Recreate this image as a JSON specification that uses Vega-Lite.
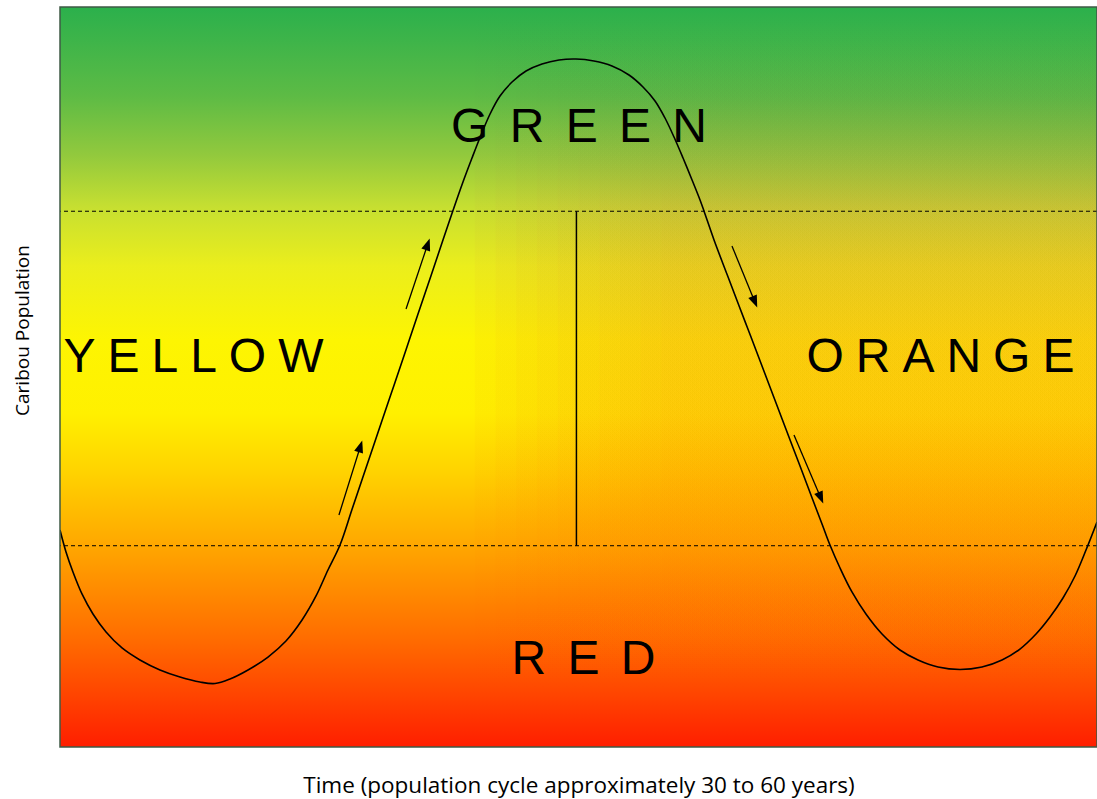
{
  "$schema": "https://vega.github.io/schema/vega-lite/v6.json",
  "width": 1037,
  "height": 740,
  "autosize": "none",
  "padding": {"left": 60, "top": 7, "right": 0, "bottom": 52},
  "background": "white",
  "config": {
    "view": {"stroke": null}
  },
  "datasets": {
    "curve": [
      {"t": 0, "pop": 29.32}, {"t": 0.58, "pop": 26.35}, {"t": 1.25, "pop": 23.65}, {"t": 2.12, "pop": 20.68},
      {"t": 3.18, "pop": 17.97}, {"t": 4.44, "pop": 15.54}, {"t": 5.98, "pop": 13.38}, {"t": 7.71, "pop": 11.76},
      {"t": 9.64, "pop": 10.41}, {"t": 11.57, "pop": 9.46}, {"t": 13.5, "pop": 8.78}, {"t": 14.95, "pop": 8.58},
      {"t": 16.39, "pop": 9.19}, {"t": 18.13, "pop": 10.41}, {"t": 20.06, "pop": 12.16}, {"t": 21.79, "pop": 14.32},
      {"t": 23.34, "pop": 17.16}, {"t": 24.69, "pop": 20.41}, {"t": 25.84, "pop": 23.92}, {"t": 27.0, "pop": 27.3},
      {"t": 28.14, "pop": 32.03}, {"t": 29.18, "pop": 36.35}, {"t": 30.16, "pop": 40.41}, {"t": 31.07, "pop": 44.19},
      {"t": 32.22, "pop": 48.92}, {"t": 33.36, "pop": 53.65}, {"t": 34.49, "pop": 58.38}, {"t": 35.8, "pop": 63.78},
      {"t": 36.93, "pop": 68.51}, {"t": 37.88, "pop": 72.43}, {"t": 38.86, "pop": 76.35}, {"t": 39.73, "pop": 79.59},
      {"t": 40.6, "pop": 82.7}, {"t": 41.47, "pop": 85.54}, {"t": 42.43, "pop": 87.97}, {"t": 43.59, "pop": 89.86},
      {"t": 44.94, "pop": 91.35}, {"t": 46.48, "pop": 92.3}, {"t": 48.12, "pop": 92.84}, {"t": 49.76, "pop": 92.97},
      {"t": 51.49, "pop": 92.7}, {"t": 53.23, "pop": 92.03}, {"t": 54.87, "pop": 90.81}, {"t": 56.22, "pop": 89.19},
      {"t": 57.38, "pop": 87.3}, {"t": 58.34, "pop": 85.0}, {"t": 59.21, "pop": 82.43}, {"t": 60.08, "pop": 79.59},
      {"t": 60.95, "pop": 76.62}, {"t": 61.72, "pop": 73.92}, {"t": 62.1, "pop": 72.43}, {"t": 63.07, "pop": 68.51},
      {"t": 64.35, "pop": 63.78}, {"t": 65.45, "pop": 59.73}, {"t": 66.3, "pop": 56.62}, {"t": 67.11, "pop": 53.65},
      {"t": 68.39, "pop": 48.92}, {"t": 69.67, "pop": 44.19}, {"t": 70.77, "pop": 40.14}, {"t": 71.69, "pop": 36.76},
      {"t": 72.6, "pop": 33.38}, {"t": 73.52, "pop": 30.0}, {"t": 74.25, "pop": 27.3}, {"t": 75.22, "pop": 24.19},
      {"t": 76.37, "pop": 20.95}, {"t": 77.72, "pop": 17.97}, {"t": 79.27, "pop": 15.27}, {"t": 81.0, "pop": 13.11},
      {"t": 82.74, "pop": 11.76}, {"t": 84.67, "pop": 10.81}, {"t": 86.79, "pop": 10.47}, {"t": 88.91, "pop": 10.81},
      {"t": 90.84, "pop": 11.76}, {"t": 92.57, "pop": 13.24}, {"t": 94.12, "pop": 15.27}, {"t": 95.47, "pop": 17.57},
      {"t": 96.72, "pop": 20.14}, {"t": 97.88, "pop": 23.11}, {"t": 98.94, "pop": 26.62}, {"t": 100, "pop": 30.41}
    ],
    "arrows": [
      {"t0": 26.9, "p0": 31.35, "t1": 28.97, "p1": 40.64, "angle": 17.3},
      {"t0": 33.37, "p0": 59.19, "t1": 35.46, "p1": 67.95, "angle": 18.9},
      {"t0": 64.8, "p0": 67.7, "t1": 67.01, "p1": 60.15, "angle": 157.7},
      {"t0": 70.78, "p0": 42.16, "t1": 73.37, "p1": 33.66, "angle": 156.9}
    ],
    "thresholds": [{"level": 72.4}, {"level": 27.2}],
    "divider": [{"t": 49.8, "lo": 27.2, "hi": 72.4}],
    "zones": [
      {"label": "G \u2006R \u2006E \u2006E \u2006N", "t": 50.05, "pop": 83.65},
      {"label": "Y\u2005E\u2005L\u2005L\u2005O\u2005W", "t": 12.87, "pop": 52.57},
      {"label": "O\u2005R\u2005A\u2005N\u2005G\u2005E", "t": 84.9, "pop": 52.57},
      {"label": "R \u2006E \u2006D", "t": 50.48, "pop": 11.76}
    ],
    "blend": [
      {"from": 40, "step": 1}, {"from": 42, "step": 2}, {"from": 44, "step": 3}, {"from": 46, "step": 4}, {"from": 48, "step": 5},
      {"from": 50, "step": 6}, {"from": 52, "step": 7}, {"from": 54, "step": 8}, {"from": 56, "step": 9}, {"from": 58, "step": 10}
    ]
  },
  "encoding": {
    "x": {"type": "quantitative", "scale": {"domain": [0, 100], "nice": false},
          "axis": {"title": "Time (population cycle approximately 30 to 60 years)", "titleFont": "Open Sans", "titleFontSize": 22.5, "titleFontWeight": "normal", "titleColor": "#000000", "titlePadding": 27, "values": [], "ticks": false, "domain": false, "grid": false, "labelFontSize": 1}},
    "y": {"type": "quantitative", "scale": {"domain": [0, 100], "nice": false},
          "axis": {"title": "Caribou Population", "titleFont": "Open Sans", "titleFontSize": 19, "titleFontWeight": "normal", "titleColor": "#000000", "titlePadding": 28, "titleY": 323, "values": [], "ticks": false, "domain": false, "grid": false, "labelFontSize": 1}}
  },
  "layer": [
    {
      "data": {"values": [{}]},
      "mark": {"type": "rect", "fill": {"gradient": "linear", "x1": 0, "y1": 0, "x2": 0, "y2": 1, "stops": [
        {"offset": 0, "color": "#2bb04c"}, {"offset": 0.12, "color": "#5dbb45"}, {"offset": 0.2, "color": "#92c93d"},
        {"offset": 0.27, "color": "#c6df31"}, {"offset": 0.35, "color": "#ebee1c"}, {"offset": 0.45, "color": "#fdf502"},
        {"offset": 0.55, "color": "#fff000"}, {"offset": 0.63, "color": "#ffd200"}, {"offset": 0.73, "color": "#ffa600"},
        {"offset": 0.85, "color": "#ff6e00"}, {"offset": 0.93, "color": "#ff4400"}, {"offset": 1, "color": "#ff1e00"}]}},
      "encoding": {
        "x": {"datum": 0, "type": "quantitative"},
        "x2": {"datum": 100},
        "y": {"datum": 0, "type": "quantitative"},
        "y2": {"datum": 100}
      }
    },
    {
      "data": {"name": "blend"},
      "mark": {"type": "rect", "fill": {"gradient": "linear", "x1": 0, "y1": 0, "x2": 0, "y2": 1, "stops": [
        {"offset": 0, "color": "#2bb04c"}, {"offset": 0.12, "color": "#5cb047"}, {"offset": 0.2, "color": "#96b340"},
        {"offset": 0.27, "color": "#c3b438"}, {"offset": 0.35, "color": "#e2b724"}, {"offset": 0.45, "color": "#f4b912"},
        {"offset": 0.55, "color": "#f9b60a"}, {"offset": 0.63, "color": "#fca804"}, {"offset": 0.73, "color": "#ff9200"},
        {"offset": 0.85, "color": "#ff6800"}, {"offset": 0.93, "color": "#ff4400"}, {"offset": 1, "color": "#ff1e00"}]}},
      "encoding": {
        "x": {"field": "from", "type": "quantitative"},
        "x2": {"datum": 100},
        "y": {"datum": 0, "type": "quantitative"},
        "y2": {"datum": 100},
        "opacity": {"field": "step", "type": "ordinal", "scale": {"domain": [1, 2, 3, 4, 5, 6, 7, 8, 9, 10], "range": [0.1, 0.1111, 0.125, 0.1429, 0.1667, 0.2, 0.25, 0.3333, 0.5, 1]}, "legend": null}
      }
    },
    {
      "data": {"name": "thresholds"},
      "mark": {"type": "rule", "color": "#000000", "strokeWidth": 1, "strokeDash": [4, 3]},
      "encoding": {
        "x": null,
        "y": {"field": "level", "type": "quantitative"}
      }
    },
    {
      "data": {"name": "divider"},
      "mark": {"type": "rule", "color": "#000000", "strokeWidth": 1.5},
      "encoding": {
        "x": {"field": "t", "type": "quantitative"},
        "y": {"field": "lo", "type": "quantitative"},
        "y2": {"field": "hi"}
      }
    },
    {
      "data": {"name": "curve"},
      "mark": {"type": "line", "color": "#000000", "strokeWidth": 1.6, "interpolate": "catmull-rom", "clip": true},
      "encoding": {
        "x": {"field": "t", "type": "quantitative"},
        "y": {"field": "pop", "type": "quantitative"}
      }
    },
    {
      "data": {"name": "arrows"},
      "mark": {"type": "rule", "color": "#000000", "strokeWidth": 1.3},
      "encoding": {
        "x": {"field": "t0", "type": "quantitative"},
        "y": {"field": "p0", "type": "quantitative"},
        "x2": {"field": "t1"},
        "y2": {"field": "p1"}
      }
    },
    {
      "data": {"name": "arrows"},
      "mark": {"type": "point", "shape": "M-0.75,1L0.75,1L0,-1Z", "filled": true, "color": "#000000", "opacity": 1, "size": 150},
      "encoding": {
        "x": {"field": "t1", "type": "quantitative"},
        "y": {"field": "p1", "type": "quantitative"},
        "angle": {"field": "angle", "type": "quantitative", "scale": null}
      }
    },
    {
      "data": {"name": "zones"},
      "mark": {"type": "text", "font": "Liberation Sans", "fontSize": 48, "color": "#000000", "align": "center", "baseline": "middle"},
      "encoding": {
        "x": {"field": "t", "type": "quantitative"},
        "y": {"field": "pop", "type": "quantitative"},
        "text": {"field": "label"}
      }
    },
    {
      "data": {"values": [{}]},
      "mark": {"type": "rect", "fillOpacity": 0, "stroke": "#3f5a46", "strokeWidth": 1.5},
      "encoding": {
        "x": {"datum": 0, "type": "quantitative"},
        "x2": {"datum": 100},
        "y": {"datum": 0, "type": "quantitative"},
        "y2": {"datum": 100}
      }
    }
  ]
}
